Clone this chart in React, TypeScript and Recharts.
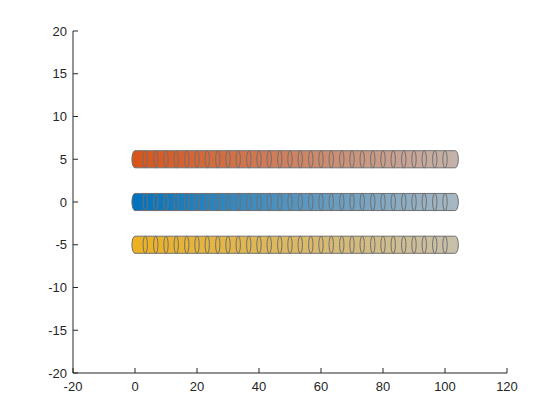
import { ComposedChart, XAxis, YAxis, ReferenceArea, Scatter } from "recharts"

// tube centre lines (y) and their colours: saturated at x = 0, greyed out at the far end
const tubeY = [5, 0, -5]
const tubeStartColor = ["#d95319", "#0072bd", "#edb120"]
const tubeEndColor = ["#c4b3ac", "#a9b8c3", "#c8c0ac"]

// tube runs from x = 0 to x = 103.3, radius 1
const tubeStart = 0
const tubeEnd = 103.3
const tubeR = 1

// x positions of the rings drawn along each tube
const ringX = [
  3.3, 6.7, 10, 13.3, 16.7, 20, 23.3, 26.7, 30, 33.3, 36.7, 40, 43.3, 46.7, 50,
  53.3, 56.7, 60, 63.3, 66.7, 70, 73.3, 76.7, 80, 83.3, 86.7, 90, 93.3, 96.7, 100,
]
const ringHalfWidth = 0.7

const xTicks = [-20, 0, 20, 40, 60, 80, 100, 120]
const yTicks = [-20, -15, -10, -5, 0, 5, 10, 15, 20]

const anchors = tubeY.flatMap((y) => [
  { x: tubeStart, y },
  { x: tubeEnd, y },
])

const axisColor = "#262626"
const edgeColor = "#707070"
const tickStyle = { fontSize: 13, fill: axisColor, fontFamily: "'Liberation Sans', Arial, sans-serif" }

function tubeShape(i: number) {
  return (props: any) => {
    const { x, y, width, height } = props
    const span = tubeEnd - tubeStart + 2 * tubeR
    const rx = (width * tubeR) / span
    const ry = height / 2
    const id = `tube-grad-${i}`
    const d = `M${x + rx},${y} L${x + width - rx},${y} A${rx},${ry} 0 0 1 ${x + width - rx},${y + height} L${x + rx},${y + height} A${rx},${ry} 0 0 1 ${x + rx},${y} Z`
    return (
      <g>
        <defs>
          <linearGradient id={id} x1="0" y1="0" x2="1" y2="0">
            <stop offset="0%" stopColor={tubeStartColor[i]} />
            <stop offset="100%" stopColor={tubeEndColor[i]} />
          </linearGradient>
        </defs>
        <path d={d} fill={`url(#${id})`} stroke={edgeColor} strokeWidth={1} />
      </g>
    )
  }
}

const ringShape = (props: any) => {
  const { x, y, width, height } = props
  return (
    <ellipse
      cx={x + width / 2}
      cy={y + height / 2}
      rx={width / 2}
      ry={height / 2}
      fill="none"
      stroke={edgeColor}
      strokeWidth={1}
    />
  )
}

export default function App() {
  return (
    <div style={{ width: 552, height: 412, background: "#fff" }}>
      <ComposedChart width={552} height={412} margin={{ top: 23, right: 53, bottom: 17, left: 35 }}>
        <XAxis
          type="number"
          dataKey="x"
          domain={[-20, 120]}
          ticks={xTicks}
          allowDataOverflow
          height={30}
          tickSize={-5}
          tickMargin={14}
          stroke={axisColor}
          tick={tickStyle}
          interval={0}
        />
        <YAxis
          type="number"
          dataKey="y"
          domain={[-20, 20]}
          ticks={yTicks}
          allowDataOverflow
          width={30}
          tickSize={-5}
          tickMargin={11}
          stroke={axisColor}
          tick={tickStyle}
          interval={0}
        />
        {tubeY.map((ty, i) => [
          <ReferenceArea
            key={`body-${i}`}
            x1={tubeStart - tubeR}
            x2={tubeEnd + tubeR}
            y1={ty - tubeR}
            y2={ty + tubeR}
            shape={tubeShape(i)}
          />,
          ...ringX.map((rx, j) => (
            <ReferenceArea
              key={`ring-${i}-${j}`}
              x1={rx - ringHalfWidth}
              x2={rx + ringHalfWidth}
              y1={ty - tubeR}
              y2={ty + tubeR}
              shape={ringShape}
            />
          )),
        ])}
        <Scatter data={anchors} shape={() => <g />} isAnimationActive={false} />
      </ComposedChart>
    </div>
  )
}
